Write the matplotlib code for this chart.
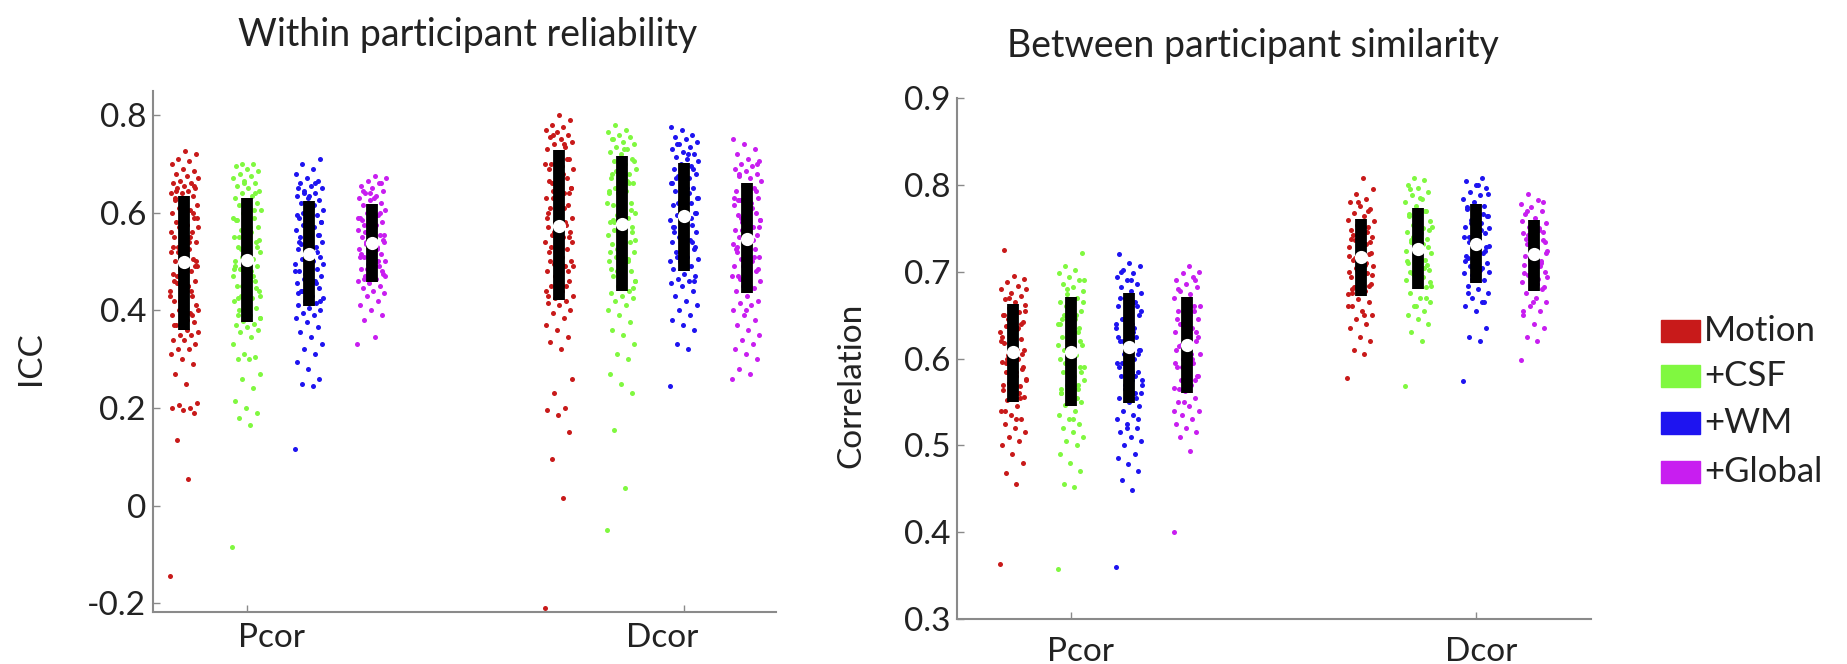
import numpy as np
import matplotlib
matplotlib.use("Agg")
from matplotlib import pyplot as plt
from matplotlib.patches import Rectangle

plt.rcParams['font.family'] = ['Lato', 'DejaVu Sans']

# Data
# ------------------------------------------------
methods = ['Motion', '+CSF', '+WM', '+Global']
colors = ['#c81a1a', '#80f840', '#1e14f0', '#c81ef0']
measures = ['Pcor', 'Dcor']

# within participant reliability (ICC)
icc_pcor = [
    [-0.145, 0.055, 0.135, 0.19, 0.195, 0.2, 0.2, 0.205, 0.21, 0.25, 0.27, 0.29, 0.3, 0.31, 0.32, 0.32, 0.33, 0.34, 0.34, 0.35, 0.35, 0.355,
     0.36, 0.37, 0.375, 0.38, 0.39, 0.395, 0.4, 0.41, 0.415, 0.42, 0.43, 0.435, 0.44, 0.45, 0.455, 0.46, 0.47, 0.475, 0.48, 0.485, 0.49, 0.495,
     0.5, 0.505, 0.51, 0.52, 0.525, 0.53, 0.54, 0.545, 0.55, 0.56, 0.565, 0.57, 0.575, 0.58, 0.59, 0.595, 0.6, 0.605, 0.61, 0.615, 0.62, 0.63,
     0.635, 0.64, 0.64, 0.645, 0.65, 0.65, 0.655, 0.66, 0.66, 0.665, 0.67, 0.675, 0.68, 0.685, 0.69, 0.7, 0.705, 0.71, 0.72, 0.727,
     0.37, 0.39, 0.41, 0.43, 0.45, 0.47, 0.49, 0.51, 0.53, 0.55, 0.57, 0.59, 0.61, 0.625, 0.6, 0.58, 0.56, 0.54, 0.52, 0.5,
     0.48, 0.46, 0.44, 0.42, 0.4, 0.38, 0.645, 0.655],
    [-0.085, 0.165, 0.18, 0.19, 0.2, 0.215, 0.24, 0.26, 0.27, 0.3, 0.3, 0.305, 0.31, 0.33, 0.345, 0.355, 0.36, 0.365, 0.37, 0.372,
     0.378, 0.385, 0.39, 0.4, 0.405, 0.41, 0.42, 0.425, 0.43, 0.44, 0.445, 0.45, 0.46, 0.465, 0.47, 0.48, 0.485, 0.49, 0.495, 0.5,
     0.505, 0.51, 0.52, 0.525, 0.53, 0.54, 0.545, 0.55, 0.56, 0.565, 0.57, 0.58, 0.585, 0.59, 0.6, 0.605, 0.61, 0.615, 0.62, 0.625,
     0.63, 0.635, 0.64, 0.645, 0.65, 0.655, 0.66, 0.665, 0.67, 0.675, 0.68, 0.685, 0.69, 0.695, 0.7, 0.7,
     0.385, 0.405, 0.425, 0.445, 0.465, 0.485, 0.505, 0.525, 0.545, 0.565, 0.585, 0.605, 0.62, 0.59, 0.57, 0.55, 0.53, 0.51,
     0.49, 0.47, 0.45, 0.43, 0.41, 0.39, 0.64, 0.66],
    [0.115, 0.245, 0.25, 0.26, 0.28, 0.295, 0.31, 0.32, 0.33, 0.345, 0.355, 0.365, 0.375, 0.385, 0.39, 0.395, 0.4, 0.405,
     0.41, 0.415, 0.42, 0.425, 0.43, 0.44, 0.445, 0.45, 0.455, 0.46, 0.465, 0.47, 0.475, 0.48, 0.485, 0.49, 0.495, 0.5, 0.505, 0.51,
     0.52, 0.525, 0.53, 0.535, 0.54, 0.545, 0.55, 0.555, 0.56, 0.565, 0.57, 0.575, 0.58, 0.585, 0.59, 0.595, 0.6, 0.605, 0.61, 0.62,
     0.625, 0.63, 0.635, 0.64, 0.645, 0.65, 0.655, 0.66, 0.665, 0.67, 0.68, 0.69, 0.7, 0.71,
     0.415, 0.435, 0.455, 0.475, 0.495, 0.515, 0.535, 0.555, 0.575, 0.595, 0.615, 0.6, 0.58, 0.56, 0.54, 0.52, 0.5,
     0.48, 0.46, 0.44, 0.42, 0.635, 0.65, 0.66, 0.64],
    [0.33, 0.345, 0.38, 0.39, 0.4, 0.41, 0.42, 0.43, 0.435, 0.44, 0.445, 0.45, 0.455,
     0.46, 0.465, 0.47, 0.475, 0.48, 0.485, 0.49, 0.495, 0.5, 0.505, 0.51, 0.515, 0.52, 0.525, 0.53, 0.535,
     0.54, 0.545, 0.55, 0.555, 0.56, 0.565, 0.57, 0.575, 0.58, 0.585, 0.59, 0.595, 0.6, 0.605, 0.61, 0.615,
     0.62, 0.625, 0.63, 0.635, 0.64, 0.645, 0.65, 0.655, 0.66, 0.665, 0.67, 0.675,
     0.465, 0.48, 0.495, 0.51, 0.525, 0.54, 0.555, 0.57, 0.585, 0.6, 0.61, 0.59, 0.575, 0.56, 0.545, 0.53,
     0.515, 0.5, 0.485, 0.47, 0.63, 0.645, 0.66, 0.64],
]
icc_dcor = [
    [-0.21, 0.015, 0.095, 0.15, 0.185, 0.195, 0.2, 0.23, 0.26, 0.32, 0.335, 0.345, 0.36, 0.37, 0.385, 0.395, 0.4, 0.41, 0.415, 0.42,
     0.425, 0.43, 0.44, 0.45, 0.46, 0.47, 0.48, 0.49, 0.495, 0.5, 0.51, 0.52, 0.525, 0.53, 0.54, 0.55, 0.555, 0.56, 0.565, 0.57,
     0.575, 0.58, 0.59, 0.6, 0.61, 0.615, 0.62, 0.63, 0.64, 0.645, 0.65, 0.66, 0.665, 0.67, 0.68, 0.69, 0.695, 0.7, 0.71, 0.72,
     0.73, 0.735, 0.74, 0.745, 0.75, 0.755, 0.76, 0.765, 0.77, 0.775, 0.78, 0.79, 0.8,
     0.43, 0.45, 0.47, 0.49, 0.51, 0.53, 0.55, 0.57, 0.59, 0.61, 0.63, 0.65, 0.67, 0.69, 0.71, 0.72, 0.7, 0.68,
     0.66, 0.64, 0.62, 0.6, 0.58, 0.56, 0.54, 0.52, 0.5, 0.48, 0.46, 0.44, 0.74, 0.76],
    [-0.05, 0.035, 0.155, 0.23, 0.25, 0.27, 0.3, 0.31, 0.33, 0.35, 0.36, 0.375, 0.39, 0.4, 0.41, 0.42, 0.425, 0.43, 0.435,
     0.44, 0.45, 0.46, 0.465, 0.47, 0.48, 0.49, 0.5, 0.505, 0.51, 0.52, 0.53, 0.535, 0.54, 0.55, 0.555, 0.56, 0.565, 0.57, 0.575,
     0.58, 0.59, 0.595, 0.6, 0.61, 0.615, 0.62, 0.63, 0.64, 0.645, 0.65, 0.66, 0.665, 0.67, 0.68, 0.685, 0.69, 0.7, 0.705, 0.71,
     0.72, 0.725, 0.73, 0.735, 0.74, 0.745, 0.75, 0.755, 0.76, 0.765, 0.77, 0.78,
     0.445, 0.465, 0.485, 0.505, 0.525, 0.545, 0.565, 0.585, 0.605, 0.625, 0.645, 0.665, 0.685, 0.705, 0.7, 0.68,
     0.66, 0.64, 0.62, 0.6, 0.58, 0.56, 0.54, 0.52, 0.5, 0.48, 0.46, 0.73, 0.75],
    [0.245, 0.32, 0.33, 0.36, 0.37, 0.38, 0.39, 0.4, 0.41, 0.42, 0.43, 0.44, 0.45, 0.455, 0.46, 0.465, 0.47, 0.475,
     0.485, 0.49, 0.5, 0.505, 0.51, 0.52, 0.525, 0.53, 0.54, 0.545, 0.55, 0.56, 0.565, 0.57, 0.575, 0.58, 0.585, 0.59,
     0.595, 0.6, 0.61, 0.615, 0.62, 0.625, 0.63, 0.64, 0.645, 0.65, 0.655, 0.66, 0.67, 0.675, 0.68, 0.685, 0.69, 0.695, 0.7,
     0.705, 0.71, 0.715, 0.72, 0.725, 0.73, 0.735, 0.74, 0.745, 0.75, 0.755, 0.76, 0.77, 0.775,
     0.49, 0.51, 0.53, 0.55, 0.57, 0.59, 0.61, 0.63, 0.65, 0.67, 0.69, 0.68, 0.66, 0.64, 0.62, 0.6, 0.58, 0.56,
     0.54, 0.52, 0.5, 0.72, 0.74, 0.46],
    [0.26, 0.27, 0.28, 0.3, 0.31, 0.32, 0.33, 0.34, 0.35, 0.36, 0.37, 0.38, 0.39, 0.4, 0.41, 0.415, 0.42, 0.43,
     0.44, 0.445, 0.45, 0.46, 0.465, 0.47, 0.48, 0.485, 0.49, 0.5, 0.505, 0.51, 0.515, 0.52, 0.525, 0.53, 0.535, 0.54,
     0.55, 0.555, 0.56, 0.565, 0.57, 0.58, 0.585, 0.59, 0.595, 0.6, 0.61, 0.615, 0.62, 0.625, 0.63, 0.64, 0.645, 0.65, 0.655,
     0.665, 0.67, 0.675, 0.68, 0.685, 0.69, 0.695, 0.7, 0.705, 0.71, 0.72, 0.73, 0.74, 0.75,
     0.445, 0.465, 0.485, 0.505, 0.525, 0.545, 0.565, 0.585, 0.605, 0.625, 0.645, 0.65, 0.63, 0.61, 0.59, 0.57,
     0.55, 0.53, 0.51, 0.49, 0.47, 0.45, 0.68, 0.7, 0.4],
]
icc_q1 = [[0.360, 0.377, 0.408, 0.458], [0.422, 0.439, 0.481, 0.435]]
icc_med = [[0.499, 0.504, 0.516, 0.537], [0.572, 0.576, 0.593, 0.546]]
icc_q3 = [[0.634, 0.629, 0.624, 0.617], [0.728, 0.717, 0.702, 0.661]]

# between participant similarity (correlation)
cor_pcor = [
    [0.363, 0.455, 0.468, 0.48, 0.49, 0.5, 0.505, 0.51, 0.515, 0.52, 0.525, 0.53, 0.535, 0.54, 0.545,
     0.552, 0.556, 0.56, 0.564, 0.568, 0.572, 0.576, 0.58, 0.584, 0.588, 0.592, 0.596, 0.6, 0.604,
     0.61, 0.614, 0.618, 0.622, 0.626, 0.63, 0.634, 0.638, 0.642, 0.646, 0.65, 0.654, 0.658, 0.662,
     0.665, 0.668, 0.672, 0.676, 0.68, 0.684, 0.688, 0.692, 0.695, 0.725,
     0.555, 0.565, 0.575, 0.585, 0.595, 0.605, 0.615, 0.625, 0.635, 0.645, 0.655, 0.66, 0.65, 0.64,
     0.63, 0.62, 0.61, 0.6, 0.59, 0.58, 0.57, 0.56, 0.67, 0.68, 0.53, 0.54],
    [0.358, 0.452, 0.456, 0.47, 0.48, 0.49, 0.5, 0.505, 0.51, 0.515, 0.52, 0.525, 0.53, 0.535, 0.54,
     0.546, 0.55, 0.555, 0.56, 0.565, 0.57, 0.575, 0.58, 0.585, 0.59, 0.595, 0.6, 0.604,
     0.61, 0.615, 0.62, 0.625, 0.63, 0.635, 0.64, 0.645, 0.65, 0.655, 0.66, 0.665, 0.67,
     0.674, 0.678, 0.682, 0.686, 0.69, 0.694, 0.698, 0.702, 0.706, 0.722,
     0.55, 0.56, 0.57, 0.58, 0.59, 0.6, 0.61, 0.62, 0.63, 0.64, 0.65, 0.66, 0.665, 0.655, 0.645,
     0.635, 0.625, 0.615, 0.605, 0.595, 0.585, 0.575, 0.565, 0.555, 0.68, 0.69, 0.53],
    [0.36, 0.449, 0.46, 0.47, 0.478, 0.485, 0.49, 0.5, 0.505, 0.51, 0.515, 0.52, 0.525, 0.53, 0.535, 0.54, 0.545,
     0.55, 0.555, 0.56, 0.565, 0.57, 0.575, 0.58, 0.585, 0.59, 0.595, 0.6, 0.605, 0.61,
     0.615, 0.62, 0.625, 0.63, 0.635, 0.64, 0.645, 0.65, 0.655, 0.66, 0.665, 0.67, 0.675,
     0.678, 0.682, 0.686, 0.69, 0.694, 0.698, 0.702, 0.706, 0.71, 0.72,
     0.555, 0.565, 0.575, 0.585, 0.595, 0.605, 0.615, 0.625, 0.635, 0.645, 0.655, 0.665, 0.67, 0.66,
     0.65, 0.64, 0.63, 0.62, 0.61, 0.6, 0.59, 0.58, 0.57, 0.56, 0.69, 0.7, 0.53, 0.52],
    [0.4, 0.493, 0.51, 0.515, 0.52, 0.525, 0.53, 0.535, 0.54, 0.545, 0.55, 0.555,
     0.562, 0.566, 0.57, 0.575, 0.58, 0.585, 0.59, 0.595, 0.6, 0.605, 0.61, 0.614,
     0.62, 0.625, 0.63, 0.635, 0.64, 0.645, 0.65, 0.655, 0.66, 0.665, 0.67,
     0.674, 0.678, 0.682, 0.686, 0.69, 0.694, 0.698, 0.7, 0.707,
     0.565, 0.575, 0.585, 0.595, 0.605, 0.615, 0.625, 0.635, 0.645, 0.655, 0.665, 0.66, 0.65,
     0.64, 0.63, 0.62, 0.61, 0.6, 0.59, 0.58, 0.57, 0.68, 0.69, 0.55, 0.54],
]
cor_dcor = [
    [0.578, 0.605, 0.61, 0.62, 0.625, 0.635, 0.64, 0.645, 0.65, 0.655, 0.66, 0.665, 0.668,
     0.674, 0.678, 0.682, 0.686, 0.69, 0.694, 0.698, 0.702, 0.706, 0.71, 0.714,
     0.72, 0.724, 0.728, 0.732, 0.736, 0.74, 0.744, 0.748, 0.752, 0.756, 0.76,
     0.764, 0.768, 0.772, 0.776, 0.78, 0.784, 0.79, 0.795, 0.808,
     0.676, 0.684, 0.692, 0.7, 0.708, 0.716, 0.722, 0.73, 0.738, 0.746, 0.754, 0.758, 0.75,
     0.742, 0.734, 0.726, 0.718, 0.71, 0.704, 0.696, 0.688, 0.68, 0.77, 0.78, 0.66, 0.65],
    [0.568, 0.62, 0.63, 0.64, 0.645, 0.65, 0.655, 0.66, 0.665, 0.67, 0.675,
     0.682, 0.686, 0.69, 0.694, 0.698, 0.702, 0.706, 0.71, 0.714, 0.718, 0.722,
     0.73, 0.734, 0.738, 0.742, 0.746, 0.75, 0.754, 0.758, 0.762, 0.766, 0.77,
     0.776, 0.78, 0.784, 0.788, 0.792, 0.796, 0.8, 0.805, 0.808,
     0.684, 0.692, 0.7, 0.708, 0.716, 0.724, 0.732, 0.74, 0.748, 0.756, 0.764, 0.77, 0.76,
     0.752, 0.744, 0.736, 0.728, 0.72, 0.712, 0.704, 0.696, 0.688, 0.785, 0.795, 0.67, 0.66],
    [0.574, 0.62, 0.625, 0.635, 0.655, 0.66, 0.665, 0.67, 0.675, 0.68, 0.684,
     0.69, 0.694, 0.698, 0.702, 0.706, 0.71, 0.714, 0.718, 0.722, 0.726, 0.73,
     0.736, 0.74, 0.744, 0.748, 0.752, 0.756, 0.76, 0.764, 0.768, 0.772, 0.776,
     0.78, 0.784, 0.788, 0.792, 0.796, 0.8, 0.804, 0.808,
     0.692, 0.7, 0.708, 0.716, 0.724, 0.732, 0.74, 0.748, 0.756, 0.764, 0.772, 0.775, 0.766,
     0.758, 0.75, 0.742, 0.734, 0.728, 0.72, 0.712, 0.704, 0.696, 0.79, 0.8, 0.675, 0.665],
    [0.598, 0.62, 0.625, 0.635, 0.64, 0.65, 0.655, 0.66, 0.665, 0.67, 0.675,
     0.68, 0.684, 0.688, 0.692, 0.696, 0.7, 0.704, 0.708, 0.712, 0.716,
     0.724, 0.728, 0.732, 0.736, 0.74, 0.744, 0.748, 0.752, 0.756,
     0.762, 0.766, 0.77, 0.774, 0.778, 0.782, 0.789,
     0.682, 0.69, 0.698, 0.706, 0.714, 0.722, 0.73, 0.738, 0.746, 0.754, 0.758, 0.75,
     0.742, 0.734, 0.726, 0.718, 0.71, 0.702, 0.694, 0.686, 0.77, 0.78, 0.665, 0.655],
]
cor_q1 = [[0.550, 0.545, 0.549, 0.560], [0.672, 0.680, 0.687, 0.678]]
cor_med = [[0.608, 0.608, 0.613, 0.616], [0.717, 0.726, 0.732, 0.720]]
cor_q3 = [[0.663, 0.671, 0.676, 0.671], [0.761, 0.773, 0.778, 0.760]]
# ------------------------------------------------

group_x = [[1, 2, 3, 4], [7, 8, 9, 10]]
tick_x = [2, 9]


def draw_panel(ax, pts, q1, med, q3, label_x, label_pad):
    for m, groups in enumerate(pts):
        for g, vals in enumerate(groups):
            vals = np.array(vals)
            n = len(vals)
            # spread the points sideways with a fixed low-discrepancy pattern
            off = ((np.arange(n) * 0.618034) % 1 - 0.5) * 0.46
            ax.scatter(group_x[m][g] + off, vals, s=13, color=colors[g],
                       linewidths=0, zorder=2)
            ax.vlines(group_x[m][g], q1[m][g], q3[m][g], color='black',
                      lw=8.5, zorder=3)
            ax.plot(group_x[m][g], med[m][g], 'o', color='white', ms=9.5,
                    mec='none', zorder=4)
    for s in ['top', 'right']:
        ax.spines[s].set_visible(False)
    for s in ['left', 'bottom']:
        ax.spines[s].set_color('#8a8a8a')
        ax.spines[s].set_linewidth(1.5)
    ax.tick_params(axis='y', direction='in', length=5, width=1, color='#8a8a8a',
                   labelsize=24, labelcolor='#222222', pad=5)
    # labels sit a little off the tick marks in the original
    ax.set_xticks(label_x)
    ax.set_xticklabels(measures)
    ax.tick_params(axis='x', which='major', length=0, labelsize=24,
                   labelcolor='#222222', pad=label_pad)
    ax.set_xticks(tick_x, minor=True)
    ax.tick_params(axis='x', which='minor', direction='in', length=5, width=1,
                   color='#8a8a8a')


fig = plt.figure(figsize=(18.47, 6.64), dpi=100)

# left panel
ax1 = fig.add_axes([153/1847, 1-612/664, 623/1847, 521.4/664])
pts1 = [[icc_pcor[i] for i in range(4)], [icc_dcor[i] for i in range(4)]]
draw_panel(ax1, pts1, icc_q1, icc_med, icc_q3, [2.39, 8.65], 8)
ax1.set_xlim(0.5, 10.47)
ax1.set_ylim(-0.218, 0.85)
ax1.set_yticks([-0.2, 0, 0.2, 0.4, 0.6, 0.8])
ax1.set_yticklabels(['-0.2', '0', '0.2', '0.4', '0.6', '0.8'])
fig.text(468/1847, 1-35/664, 'Within participant reliability', ha='center',
         va='center', fontsize=27, color='#222222')
fig.text(31/1847, 1-358/664, 'ICC', ha='center', va='center', rotation=90,
         fontsize=24, color='#222222')

# right panel
ax2 = fig.add_axes([957/1847, 1-619/664, 634/1847, 521/664])
pts2 = [[cor_pcor[i] for i in range(4)], [cor_dcor[i] for i in range(4)]]
draw_panel(ax2, pts2, cor_q1, cor_med, cor_q3, [2.17, 9.08], 13)
ax2.set_xlim(0.03, 10.98)
ax2.set_ylim(0.3, 0.9)
ax2.set_yticks([0.3, 0.4, 0.5, 0.6, 0.7, 0.8, 0.9])
ax2.set_yticklabels(['0.3', '0.4', '0.5', '0.6', '0.7', '0.8', '0.9'])
fig.text(1253/1847, 1-46/664, 'Between participant similarity', ha='center',
         va='center', fontsize=27, color='#222222')
fig.text(851/1847, 1-385/664, 'Correlation', ha='center', va='center',
         rotation=90, fontsize=24, color='#222222')

# legend
rows_y = [331, 376, 423, 472]
for i in range(4):
    fig.add_artist(Rectangle((1661/1847, 1-(rows_y[i]+11)/664), 39/1847, 22/664,
                             transform=fig.transFigure, color=colors[i]))
    fig.text(1704/1847, 1-rows_y[i]/664, methods[i], ha='left', va='center',
             fontsize=25, color='#222222')

plt.savefig('out.png', dpi=100)
